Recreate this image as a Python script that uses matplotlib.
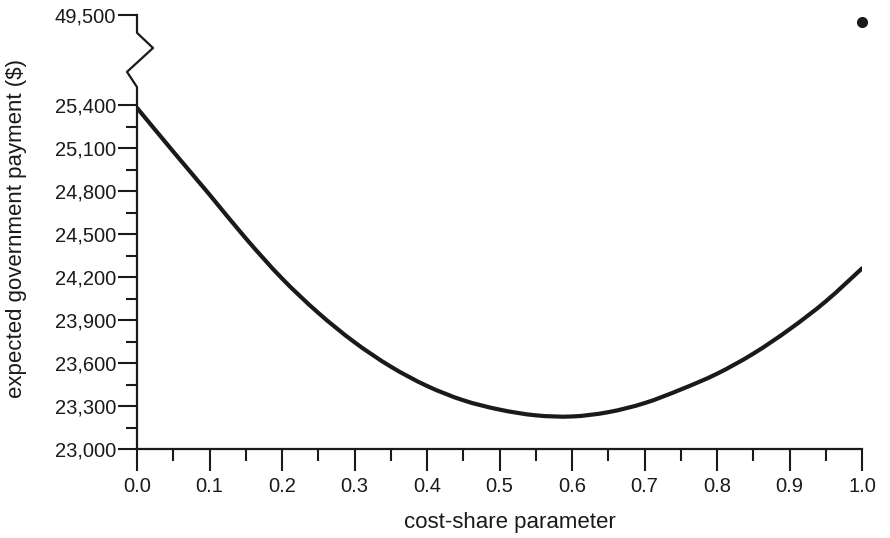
import numpy as np
import matplotlib
matplotlib.use('Agg')
import matplotlib.pyplot as plt
from matplotlib.path import Path
from matplotlib.patches import PathPatch
from matplotlib.ticker import FixedLocator, FuncFormatter

# data
share = [0.00, 0.05, 0.10, 0.15, 0.20, 0.25, 0.30, 0.35, 0.40, 0.45, 0.50,
         0.55, 0.60, 0.65, 0.70, 0.75, 0.80, 0.85, 0.90, 0.95, 1.00]
payment = [25380, 25075, 24775, 24470, 24190, 23950, 23745, 23575, 23440, 23340, 23275,
           23235, 23227, 23257, 23320, 23415, 23525, 23665, 23835, 24030, 24260]
point_x = [1.0]
point_y = [49450]

y_ticks = [23000, 23300, 23600, 23900, 24200, 24500, 24800, 25100, 25400, 49500]
y_minor = [23150, 23450, 23750, 24050, 24350, 24650, 24950, 25250]
x_ticks = [0.0, 0.1, 0.2, 0.3, 0.4, 0.5, 0.6, 0.7, 0.8, 0.9, 1.0]
x_minor = [0.05, 0.15, 0.25, 0.35, 0.45, 0.55, 0.65, 0.75, 0.85, 0.95]

# broken y scale: squeeze the empty gap between ~25,450 and 49,000
LO, HI, U_HI = 25450.0, 49000.0, 25528.0


def fwd(y):
    y = np.asarray(y, dtype=float)
    mid = LO + (y - LO) * (U_HI - LO) / (HI - LO)
    return np.where(y <= LO, y, np.where(y >= HI, y - HI + U_HI, mid))


def inv(u):
    u = np.asarray(u, dtype=float)
    mid = LO + (u - LO) * (HI - LO) / (U_HI - LO)
    return np.where(u <= LO, u, np.where(u >= U_HI, u - U_HI + HI, mid))


def smooth_path(xs, ys):
    # catmull-rom style bezier through the read points (drawing only)
    pts = np.column_stack([xs, ys]).astype(float)
    n = len(pts)
    verts = [pts[0]]
    codes = [Path.MOVETO]
    for i in range(n - 1):
        p0 = pts[max(i - 1, 0)]
        p1 = pts[i]
        p2 = pts[i + 1]
        p3 = pts[min(i + 2, n - 1)]
        verts += [p1 + (p2 - p0) / 6, p2 - (p3 - p1) / 6, p2]
        codes += [Path.CURVE4] * 3
    return Path(verts, codes)


plt.rcParams['font.family'] = ['Liberation Sans', 'DejaVu Sans']
ink = '#1a1a1a'

fig = plt.figure(figsize=(8.9, 5.38), dpi=100)
ax = fig.add_axes([137 / 890, 89 / 538, 725 / 890, 434 / 538])
ax.set_yscale('function', functions=(fwd, inv))

ax.add_patch(PathPatch(smooth_path(share, payment), fill=False, edgecolor=ink,
                       lw=3.0, capstyle='round'))
ax.plot(point_x, point_y, 'o', color=ink, ms=7, clip_on=False)

ax.set_xlim(0, 1.0)
ax.set_ylim(23000, 49500)

ax.xaxis.set_major_locator(FixedLocator(x_ticks))
ax.xaxis.set_minor_locator(FixedLocator(x_minor))
ax.yaxis.set_major_locator(FixedLocator(y_ticks))
ax.yaxis.set_minor_locator(FixedLocator(y_minor))
ax.xaxis.set_major_formatter(FuncFormatter(lambda v, p: f'{v:.1f}'))
ax.yaxis.set_major_formatter(FuncFormatter(lambda v, p: f'{v:,.0f}'))

ax.tick_params(axis='both', which='major', direction='out', width=1.5,
               color=ink, labelsize=14.5, labelcolor=ink)
ax.tick_params(axis='x', which='major', length=15.5, pad=4.5)
ax.tick_params(axis='y', which='major', length=14, pad=1)
ax.tick_params(axis='x', which='minor', direction='out', length=8.5, width=1.5, color=ink)
ax.tick_params(axis='y', which='minor', direction='out', length=8, width=1.5, color=ink)

for side in ['top', 'right', 'left']:
    ax.spines[side].set_visible(False)
ax.spines['bottom'].set_linewidth(1.6)
ax.spines['bottom'].set_color(ink)

# left axis line with the zigzag break
ax.plot([0, 0, -0.0138, 0.0221, 0, 0], [0, 0.834, 0.869, 0.924, 0.959, 1.0],
        transform=ax.transAxes, color=ink, lw=1.6, clip_on=False)

ax.set_xlabel('cost-share parameter', fontsize=16, color=ink)
ax.set_ylabel('expected government payment ($)', fontsize=16, color=ink)
ax.xaxis.set_label_coords((510 - 137) / 725, (449 - 512) / 434)
ax.yaxis.set_label_coords((27 - 137) / 725, (449 - 228) / 434)

fig.savefig('out.png', dpi=100, facecolor='white')
